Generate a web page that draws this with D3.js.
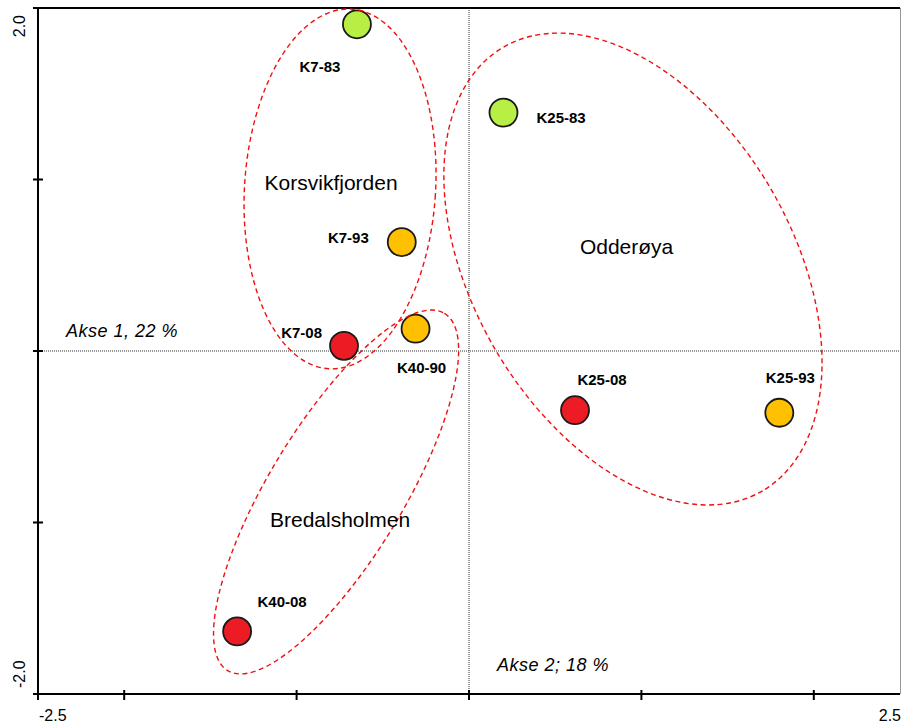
<!DOCTYPE html>
<html>
<head>
<meta charset="utf-8">
<script src="https://cdn.jsdelivr.net/npm/d3@7"></script>
<style>
  html, body { margin: 0; padding: 0; background: #ffffff; }
  svg { display: block; font-family: "Liberation Sans", Arial, sans-serif; }
</style>
</head>
<body>
<svg id="chart" width="902" height="724"></svg>
<script>
// Ordination scores per station and year (axis 1, axis 2)
const samples = ["K7-83", "K25-83", "K7-93", "K40-90", "K7-08", "K25-08", "K25-93", "K40-08"];
const axis1 = [-0.65, 0.20, -0.39, -0.31, -0.725, 0.615, 1.80, -1.345];
const axis2 = [1.905, 1.39, 0.635, 0.13, 0.03, -0.345, -0.36, -1.635];
const period = ["1983", "1983", "1990s", "1990s", "2008", "2008", "1990s", "2008"];

// Station groups: name, ellipse centre and semi-axes (axis units), tilt in degrees
const groups = ["Korsvikfjorden", "Odderøya", "Bredalsholmen"];
const groupCx = [-0.748, 0.951, -0.771];
const groupCy = [0.945, 0.478, -0.822];
const groupRx = [0.554, 1.49, 1.212];
const groupRy = [1.045, 0.925, 0.388];
const groupTilt = [3.6, 59.7, -58.75];
const groupLabelX = [-0.80, 0.914, -0.748];
const groupLabelY = [0.94, 0.566, -1.026];

// Axis ranges and labelled ticks
const xDomain = [-2.5, 2.5];
const yDomain = [-2.0, 2.0];
const xTickLabels = ["-2.5", "2.5"];
const yTickLabels = ["-2.0", "2.0"];
const xMinorTicks = [-2, -1, 0, 1, 2];
const yMinorTicks = [-1, 0, 1];
const axisTitles = ["Akse 1, 22 %", "Akse 2; 18 %"];

// Point label placement (pixel offsets from the marker)
const labelPlacement = {
  "K7-83":  { dx: -37, dy: 48, anchor: "middle" },
  "K25-83": { dx: 33, dy: 10, anchor: "start" },
  "K7-93":  { dx: -33, dy: 1, anchor: "end" },
  "K40-90": { dx: 6, dy: 44, anchor: "middle" },
  "K7-08":  { dx: -22, dy: -8, anchor: "end" },
  "K25-08": { dx: 27, dy: -25, anchor: "middle" },
  "K25-93": { dx: 11, dy: -30, anchor: "middle" },
  "K40-08": { dx: 45, dy: -24, anchor: "middle" }
};
const periodColor = { "1983": "#b8ef45", "1990s": "#ffc000", "2008": "#ed1c24" };

const svg = d3.select("#chart");
const plotLeft = 38, plotRight = 900, plotTop = 8, plotBottom = 694;

const x = d3.scaleLinear().domain(xDomain).range([plotLeft, plotRight]);
const y = d3.scaleLinear().domain(yDomain).range([plotBottom, plotTop]);

// Dotted origin lines
svg.append("line")
  .attr("x1", x(0)).attr("x2", x(0)).attr("y1", plotTop).attr("y2", plotBottom)
  .attr("stroke", "#333").attr("stroke-width", 1).attr("stroke-dasharray", "1,1");
svg.append("line")
  .attr("x1", plotLeft).attr("x2", plotRight).attr("y1", y(0)).attr("y2", y(0))
  .attr("stroke", "#333").attr("stroke-width", 1).attr("stroke-dasharray", "1,1");

// Frame: top border, right border
svg.append("line").attr("x1", plotLeft - 5).attr("x2", plotRight).attr("y1", plotTop).attr("y2", plotTop)
  .attr("stroke", "#000").attr("stroke-width", 2);
svg.append("line").attr("x1", plotRight + 0.5).attr("x2", plotRight + 0.5).attr("y1", plotTop).attr("y2", plotBottom)
  .attr("stroke", "#999").attr("stroke-width", 1);

// Bottom axis
svg.append("line").attr("x1", plotLeft - 5).attr("x2", plotRight).attr("y1", plotBottom).attr("y2", plotBottom)
  .attr("stroke", "#000").attr("stroke-width", 2);
svg.selectAll(".xtick").data(xMinorTicks).join("line")
  .attr("class", "xtick")
  .attr("x1", d => x(d)).attr("x2", d => x(d))
  .attr("y1", plotBottom - 4).attr("y2", plotBottom + 6)
  .attr("stroke", "#000").attr("stroke-width", 2);

// Left axis
svg.append("line").attr("x1", plotLeft).attr("x2", plotLeft).attr("y1", plotTop).attr("y2", plotBottom + 6)
  .attr("stroke", "#000").attr("stroke-width", 2);
svg.selectAll(".ytick").data(yMinorTicks).join("line")
  .attr("class", "ytick")
  .attr("x1", plotLeft - 5).attr("x2", plotLeft + 5)
  .attr("y1", d => y(d)).attr("y2", d => y(d))
  .attr("stroke", "#000").attr("stroke-width", 2);

// Extreme tick labels
svg.append("text").attr("x", x(xDomain[0]) + 1).attr("y", 721)
  .attr("text-anchor", "start").attr("font-size", 16).text(xTickLabels[0]);
svg.append("text").attr("x", x(xDomain[1]) + 1).attr("y", 721)
  .attr("text-anchor", "end").attr("font-size", 16).text(xTickLabels[1]);
svg.append("text").attr("transform", `translate(25,${y(yDomain[1]) + 7}) rotate(-90)`)
  .attr("text-anchor", "end").attr("font-size", 16).text(yTickLabels[1]);
svg.append("text").attr("transform", `translate(25,${y(yDomain[0]) - 6}) rotate(-90)`)
  .attr("text-anchor", "start").attr("font-size", 16).text(yTickLabels[0]);

// Axis titles
svg.append("text").attr("x", 66).attr("y", 337)
  .attr("font-style", "italic").attr("font-size", 18).attr("letter-spacing", 0.5)
  .text(axisTitles[0]);
svg.append("text").attr("x", 497).attr("y", 671)
  .attr("font-style", "italic").attr("font-size", 18).attr("letter-spacing", 0.5)
  .text(axisTitles[1]);

// Sample markers
const pts = samples.map((s, i) => ({ name: s, a1: axis1[i], a2: axis2[i], period: period[i] }));
svg.selectAll(".pt").data(pts).join("circle")
  .attr("class", "pt")
  .attr("cx", d => x(d.a1)).attr("cy", d => y(d.a2)).attr("r", 14)
  .attr("fill", d => periodColor[d.period])
  .attr("stroke", "#1a1a1a").attr("stroke-width", 1.8);

svg.selectAll(".ptlabel").data(pts).join("text")
  .attr("class", "ptlabel")
  .attr("x", d => x(d.a1) + labelPlacement[d.name].dx)
  .attr("y", d => y(d.a2) + labelPlacement[d.name].dy)
  .attr("text-anchor", d => labelPlacement[d.name].anchor)
  .attr("font-weight", "bold").attr("font-size", 15)
  .text(d => d.name);

// Group ellipses
const kx = (x(1) - x(0));
const grp = groups.map((g, i) => ({
  name: g, cx: groupCx[i], cy: groupCy[i], rx: groupRx[i], ry: groupRy[i],
  tilt: groupTilt[i], lx: groupLabelX[i], ly: groupLabelY[i]
}));
svg.selectAll(".grp").data(grp).join("ellipse")
  .attr("class", "grp")
  .attr("transform", d => `translate(${x(d.cx)},${y(d.cy)}) rotate(${d.tilt})`)
  .attr("rx", d => d.rx * kx).attr("ry", d => d.ry * kx)
  .attr("fill", "none").attr("stroke", "#f01010").attr("stroke-width", 1.4)
  .attr("stroke-dasharray", "5,3.5");

svg.selectAll(".grplabel").data(grp).join("text")
  .attr("class", "grplabel")
  .attr("x", d => x(d.lx)).attr("y", d => y(d.ly))
  .attr("text-anchor", "middle").attr("font-size", 21)
  .text(d => d.name);
</script>
</body>
</html>
